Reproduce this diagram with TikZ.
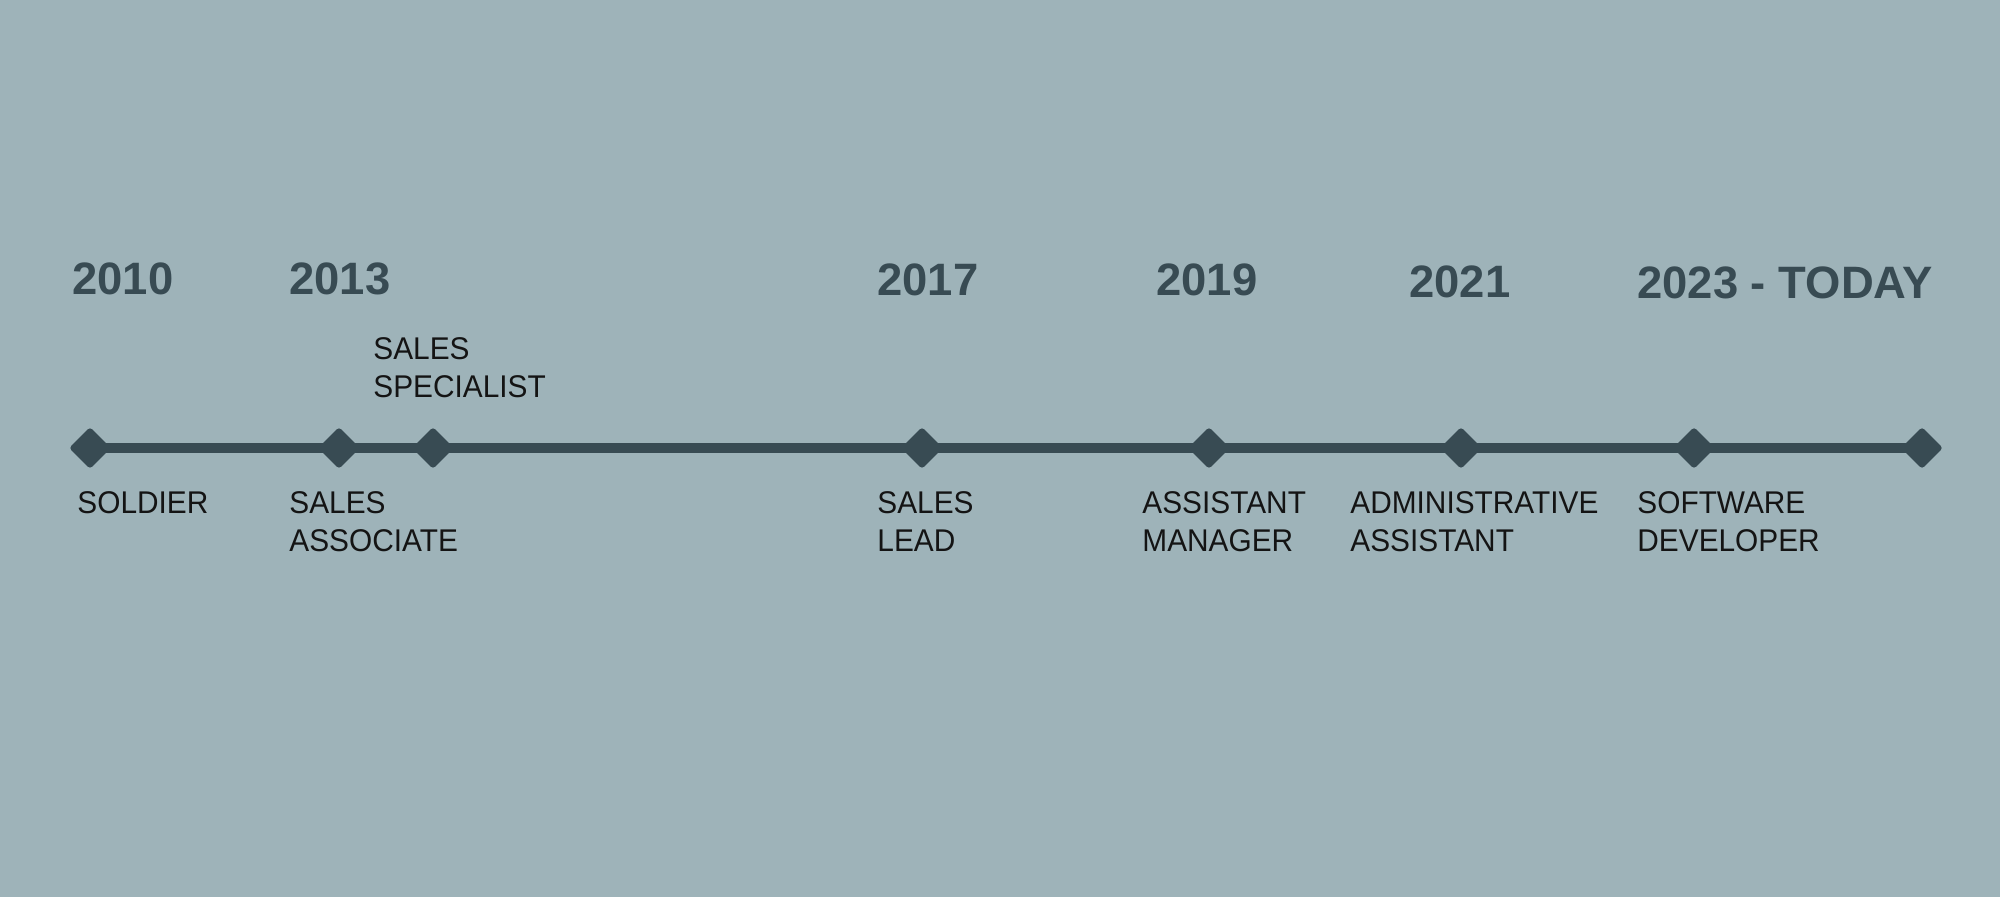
\documentclass[tikz,border=0pt]{standalone}
\usepackage{fontspec}
\setmainfont{Liberation Sans}
\newfontfamily\labelfont[FakeStretch=0.95]{Liberation Sans}
\newfontfamily\yearfont[FakeStretch=1.0]{Liberation Sans}
\usetikzlibrary{shapes.geometric}
\definecolor{bgc}{HTML}{9EB3B9}
\definecolor{slate}{HTML}{384B53}
\definecolor{ink}{HTML}{141414}
\begin{document}
\begin{tikzpicture}[x=0.5pt,y=-0.5pt,
  marker/.style={shape=diamond,fill=slate,draw=none,inner sep=0pt,
    minimum width=21pt,minimum height=21pt,rounded corners=1.5pt},
  yearlbl/.style={anchor=north west,inner sep=0pt,text=slate,
    font=\yearfont\bfseries\fontsize{22.7}{26}\selectfont},
  joblbl/.style={anchor=north west,inner sep=0pt,text=ink,align=left,
    font=\labelfont\fontsize{15.7}{19.2}\selectfont},
  axis/.style={draw=slate,line width=5pt}]
\fill[bgc] (0,0) rectangle (2000,897);
\useasboundingbox (0,0) rectangle (2000,897);
% markers
\coordinate (c1) at (90,448);
\coordinate (c8) at (1922,448);
\draw[axis] (c1) -- (c8);
\node[marker] (d1) at (90,448) {};
\node[marker] (d2) at (339,448) {};
\node[marker] (d3) at (433,448) {};
\node[marker] (d4) at (922,448) {};
\node[marker] (d5) at (1209,448) {};
\node[marker] (d6) at (1461,448) {};
\node[marker] (d7) at (1694,448) {};
\node[marker] (d8) at (1922,448) {};
% years
\node[yearlbl] (y2010) at (72,262) {2010};
\node[yearlbl] (y2013) at (289,262) {2013};
\node[yearlbl] (y2017) at (877,263) {2017};
\node[yearlbl] (y2019) at (1156,263) {2019};
\node[yearlbl] (y2021) at (1409,265) {2021};
\node[yearlbl] (y2023) at (1637,266) {2023 - TODAY};
% jobs
\node[joblbl] (soldier) at (77,491) {SOLDIER};
\node[joblbl] (assoc) at (289,491) {SALES\\ASSOCIATE};
\node[joblbl] (spec) at (373,337) {SALES\\SPECIALIST};
\node[joblbl] (lead) at (877,491) {SALES\\LEAD};
\node[joblbl] (mgr) at (1142,491) {ASSISTANT\\MANAGER};
\node[joblbl] (admin) at (1350,491) {ADMINISTRATIVE\\ASSISTANT};
\node[joblbl] (dev) at (1637,491) {SOFTWARE\\DEVELOPER};
\end{tikzpicture}
\end{document}
